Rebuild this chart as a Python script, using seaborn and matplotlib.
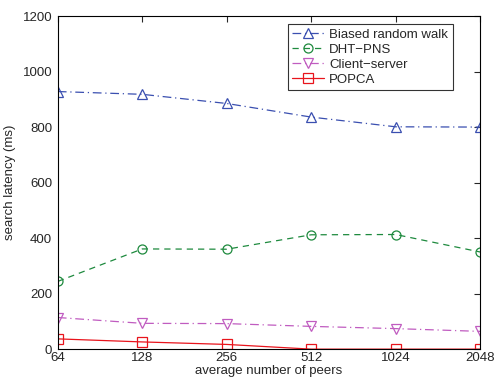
import numpy as np
import pandas as pd
import matplotlib
matplotlib.use("Agg")
import matplotlib.pyplot as plt
import seaborn as sns

peers = [64, 128, 256, 512, 1024, 2048]
biased_walk = [928, 918, 885, 836, 801, 800]
dht_pns = [244, 361, 360, 412, 413, 350]
client_server = [114, 93, 92, 82, 74, 64]
popca = [37, 26, 17, 0, 0, 0]

series = ["Biased random walk", "DHT\u2212PNS", "Client\u2212server", "POPCA"]
values = [biased_walk, dht_pns, client_server, popca]
colors = ["#3a4fb0", "#1e8a3e", "#c05cc0", "#e8141c"]
markers = ["^", "o", "v", "s"]
styles = [(0, (7, 3, 1, 3)), (0, (5, 4)), (0, (7, 3, 1, 3)), "-"]

df = pd.concat([pd.DataFrame({"peers": peers, "latency": v, "method": s})
                for s, v in zip(series, values)])

sns.set_style("white")
plt.rcParams["font.family"] = ["Liberation Sans", "DejaVu Sans"]

fig = plt.figure(figsize=(4.94, 3.82), dpi=100)
ax = fig.add_axes([0.117, 0.086, 0.855, 0.872])

for s, c, m, ls in zip(series, colors, markers, styles):
    sub = df[df["method"] == s]
    sns.lineplot(data=sub, x="peers", y="latency", ax=ax, color=c, marker=m,
                 linestyle=ls, linewidth=0.9, markersize=6.5, fillstyle="none",
                 markeredgecolor=c, markeredgewidth=0.9, label=s)

ax.set_xscale("log", base=2)
ax.set_xlim(64, 2048)
ax.set_ylim(0, 1200)
ax.set_xticks(peers)
ax.set_xticklabels([str(p) for p in peers])
ax.minorticks_off()
ax.set_yticks(range(0, 1201, 200))
ax.tick_params(direction="in", top=True, right=True, labelsize=9.5, length=4,
               width=0.8)
ax.tick_params(axis="x", pad=2)
ax.tick_params(axis="y", pad=4)
for sp in ax.spines.values():
    sp.set_color("black")
    sp.set_linewidth(0.8)
ax.set_xlabel("average number of peers", fontsize=9.5, labelpad=1)
ax.set_ylabel("search latency (ms)", fontsize=9.5, labelpad=5)

leg = ax.legend(loc="upper right", fontsize=9.5, frameon=True, fancybox=False,
                edgecolor="black", borderpad=0.35, labelspacing=0.2,
                handlelength=2.4, handletextpad=0.4, borderaxespad=0,
                bbox_to_anchor=(0.935, 0.976))
leg.get_frame().set_linewidth(0.8)

fig.savefig("out.png", dpi=100)
